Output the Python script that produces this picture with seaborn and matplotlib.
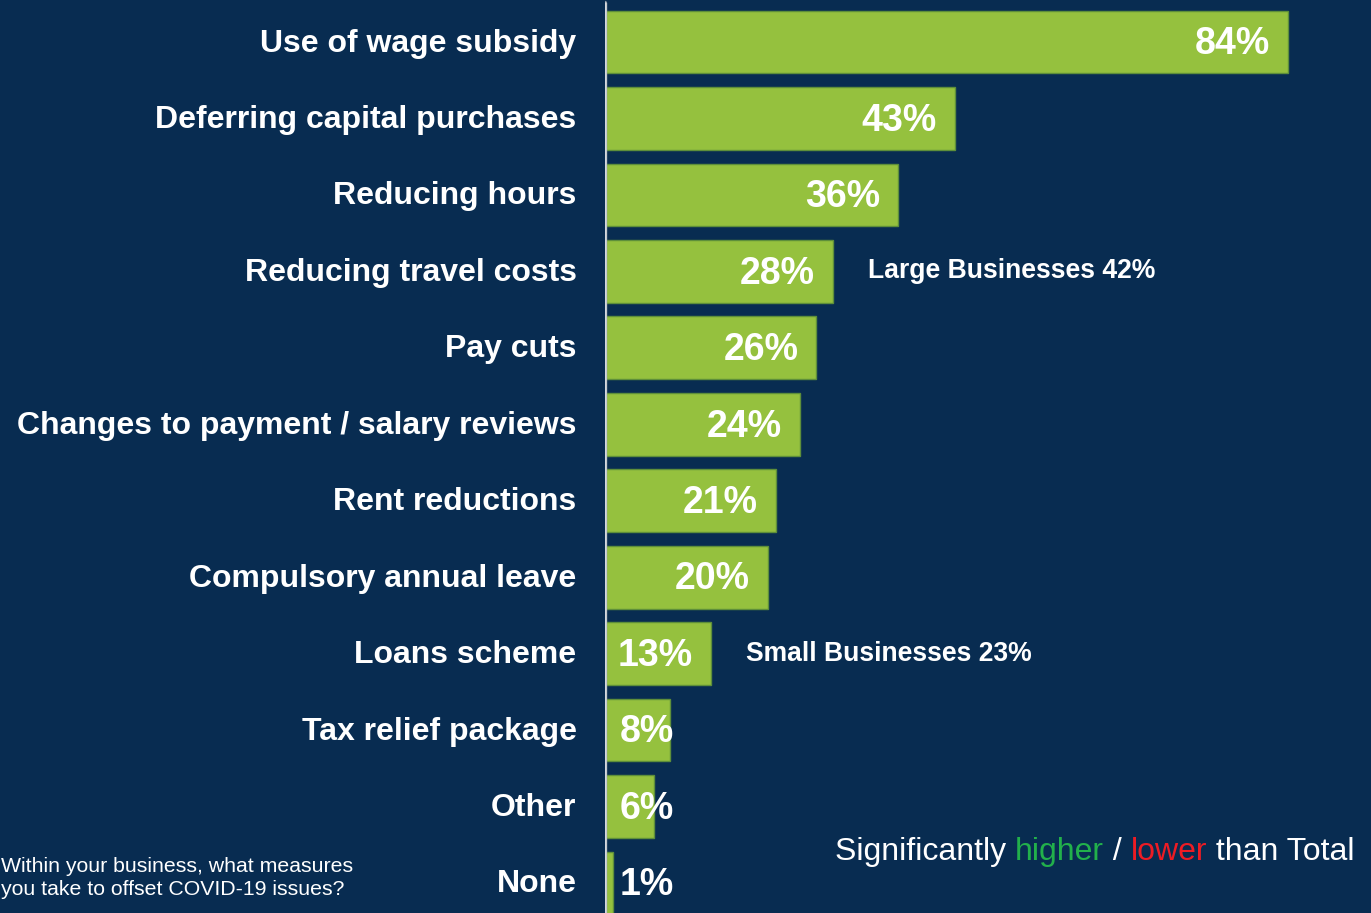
import matplotlib
matplotlib.use("Agg")
import matplotlib.pyplot as plt
import matplotlib.transforms as mtransforms
import seaborn as sns
import pandas as pd

# Survey measures and share of businesses using each
categories = [
    "Use of wage subsidy",
    "Deferring capital purchases",
    "Reducing hours",
    "Reducing travel costs",
    "Pay cuts",
    "Changes to payment / salary reviews",
    "Rent reductions",
    "Compulsory annual leave",
    "Loans scheme",
    "Tax relief package",
    "Other",
    "None",
]
values = [84, 43, 36, 28, 26, 24, 21, 20, 13, 8, 6, 1]

# Sub-group call-outs: (category, text)
callouts = [
    ("Reducing travel costs", "Large Businesses 42%"),
    ("Loans scheme", "Small Businesses 23%"),
]

question_lines = ["Within your business, what measures",
                  "you take to offset COVID-19 issues?"]

BG = "#082c51"
GREEN = "#95c13e"
EDGE = "#5e8f3a"

sns.set_theme(style="white")
plt.rcParams["font.family"] = ["Liberation Sans", "DejaVu Sans"]

df = pd.DataFrame({"measure": categories, "pct": values})

W, H = 1371, 913
fig = plt.figure(figsize=(W / 100, H / 100), dpi=100, facecolor=BG)
x0 = 605
px_per_unit = 8.13
ax = fig.add_axes([x0 / W, 0, (W - x0) / W, 1])
ax.set_facecolor(BG)

sns.barplot(data=df, x="pct", y="measure", orient="h", color=GREEN,
            edgecolor=EDGE, linewidth=1.0, width=0.82, saturation=1, ax=ax)

ax.set_xlim(0, (W - x0) / px_per_unit)
row_px = 76.45
ax.set_ylim(11 + (H - 883) / row_px, -42 / row_px)

for s in ax.spines.values():
    s.set_visible(False)
ax.set_xticks([])
ax.set_xlabel("")
ax.set_ylabel("")
ax.tick_params(axis="y", length=0, pad=20.5)
lift = mtransforms.ScaledTranslation(0, 2 / 100, fig.dpi_scale_trans)
for lab in ax.get_yticklabels():
    lab.set_color("white")
    lab.set_fontweight("bold")
    lab.set_fontsize(23)
    lab.set_transform(lab.get_transform() + lift)

# baseline divider
ax.axvline(0, ymin=0, ymax=1 - 3 / H, color="#8e99a6", lw=3.2, zorder=5)
ax.axvline(0, ymin=0, ymax=1 - 3 / H, color="#d4d8dc", lw=1.8, zorder=5)

# value labels
for i, v in enumerate(values):
    if v >= 13:
        ax.text(v - 2.2, i + 0.03, f"{v}%", ha="right", va="center",
                color="white", fontsize=27, fontweight="bold", zorder=6)
    else:
        ax.text(1.85, i + 0.03, f"{v}%", ha="left", va="center",
                color="white", fontsize=27, fontweight="bold", zorder=6)

# sub-group call-outs
for cat, txt in callouts:
    i = categories.index(cat)
    ax.text(values[i] + 4.3, i, txt, ha="left", va="center", color="white",
            fontsize=19.1, fontweight="bold")

# question text, bottom-left
fig.text(1 / W, 1 - 866 / H, question_lines[0], ha="left", va="center",
         color="white", fontsize=15.3)
fig.text(1 / W, 1 - 889 / H, question_lines[1], ha="left", va="center",
         color="white", fontsize=15.3)

# significance key, bottom-right, pieces chained left to right
parts = [("Significantly ", "white"), ("higher", "#22b04b"), (" / ", "white"),
         ("lower", "#ed1c24"), (" than Total", "white")]
prev = fig.text(835 / W, 1 - 852 / H, parts[0][0], ha="left", va="center",
                color=parts[0][1], fontsize=23)
for txt, col in parts[1:]:
    prev = ax.annotate(txt, xy=(1, 0), xycoords=prev, xytext=(0, 0),
                       textcoords="offset points", ha="left", va="bottom",
                       color=col, fontsize=23, annotation_clip=False)

fig.savefig("out.png", dpi=100, facecolor=BG)
